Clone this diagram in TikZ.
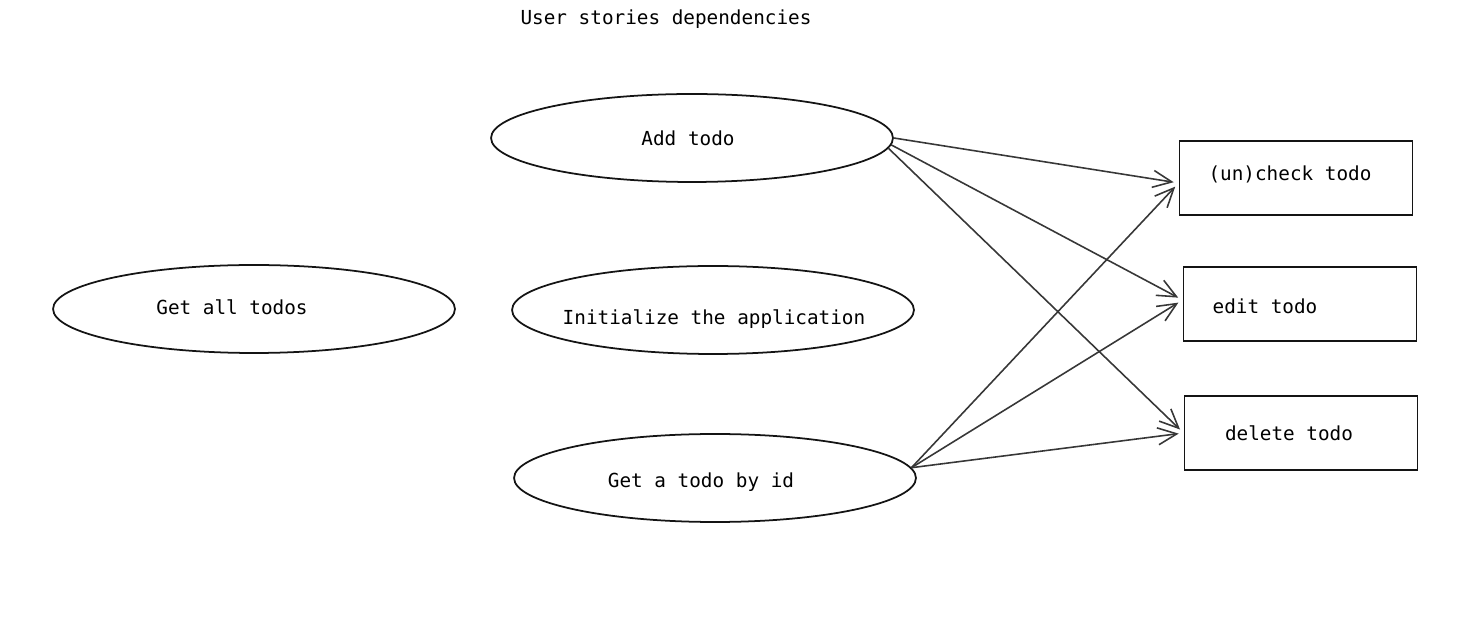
\documentclass[tikz,border=0pt]{standalone}
\usepackage{fontspec}
\setmonofont{DejaVu Sans Mono}
\usetikzlibrary{shapes.geometric}
\usetikzlibrary{arrows,arrows.meta}
\definecolor{strich}{RGB}{20,20,20}
\definecolor{pfeil}{RGB}{55,55,55}

\tikzset{
	story/.style={ellipse, draw=strich, line width=1pt, inner sep=0pt, minimum width=8.04cm, minimum height=1.76cm},
	task/.style={rectangle, draw=strich, line width=1pt, inner sep=0pt, minimum width=4.66cm, minimum height=1.48cm},
	dep/.style={pfeil, line width=0.9pt, ->, shorten >=0.1cm}
}

\begin{document}
\begin{tikzpicture}[x=0.02cm, y=-0.02cm, >={Straight Barb[length=0.38cm,width=0.34cm]}, font=\ttfamily\fontsize{11}{13}\selectfont]

	\useasboundingbox (0,0) rectangle (1481,634);

	\node (title) at (666,19) {User stories dependencies};

	% user stories
	\node[story] (add) at (692,138) {};
	\node (addtxt) at (688,138) {Add todo};

	\node[story] (all) at (254,309) {};
	\node (alltxt) at (232,307) {Get all todos};

	\node[story] (init) at (713,310) {};
	\node (inittxt) at (714,319) {Initialize the application};

	\node[story] (get) at (715,478) {};
	\node (gettxt) at (701,482) {Get a todo by id};

	% dependent stories
	\node[task] (check) at (1296,178) {};
	\node (checktxt) at (1290,174) {(un)check todo};

	\node[task] (edit) at (1300,304) {};
	\node (edittxt) at (1265,306) {edit todo};

	\node[task] (del) at (1301,433) {};
	\node (deltxt) at (1289,433) {delete todo};

	\draw[dep] (add.east) -- ([yshift=-0.1cm]check.west);
	\draw[dep] (add.-2) -- ([yshift=0.08cm]edit.west);
	\draw[dep] (add.-3) -- (del.west);

	\draw[dep] (get.3) -- ([yshift=-0.1cm]check.west);
	\draw[dep] (get.3) -- ([yshift=0.08cm]edit.west);
	\draw[dep] (get.3) -- (del.west);

\end{tikzpicture}
\end{document}
